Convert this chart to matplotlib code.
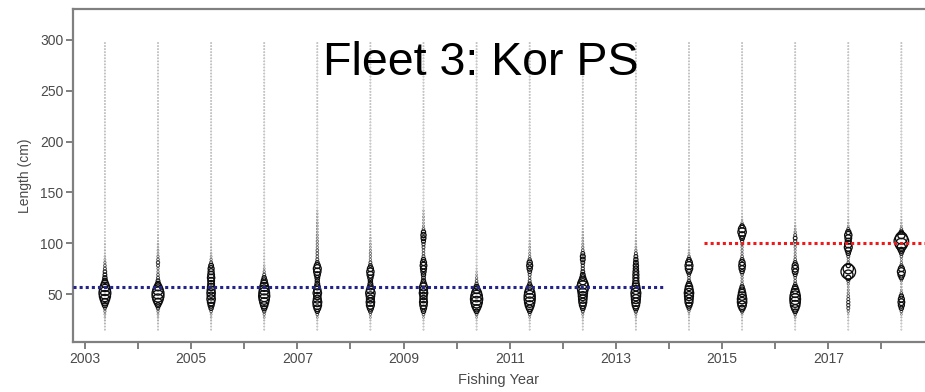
import numpy as np
import matplotlib
matplotlib.use('Agg')
import matplotlib.pyplot as plt

# Length composition bubbles, Korean purse seine fleet
years = np.arange(2003, 2019)
season = 0.375                               # sample timing within the fishing year
bins = np.arange(15, 133, 3)                 # length bins with observations (cm)
upper_bins = np.arange(135, 300, 3)          # empty bins drawn as tiny points
upper_props = np.zeros(len(upper_bins))

# Proportions (%) per length bin, one list per fishing year
p2003 = [0.05,0.05,0.08,0.1,0.15, 0.2,0.3,0.5,1.5,3, 5,7,8,7,5, 3,1.5,1,0.8,0.7,
         0.5,0.4,0.3,0.2,0.15, 0.1,0.1,0.08,0.1,0.05, 0.05,0.03,0.03,0.03,0.02, 0.02,0.02,0.02,0.02,0.02]
p2004 = [0.05,0.05,0.08,0.1,0.15, 0.2,0.3,0.6,1.5,3.5, 6,8,8,6,3.5, 1.5,0.8,0.5,0.4,0.3,
         0.3,0.5,0.6,0.4,0.3, 0.2,0.2,0.15,0.15,0.1, 0.1,0.1,0.05,0.05,0.03, 0.03,0.02,0.02,0.02,0.02]
p2005 = [0.05,0.05,0.08,0.1,0.15, 0.2,0.4,1,2,3, 4,3.5,4,3.5,3, 2.5,2.5,3,2.5,2,
         2,1.2,0.5,0.3,0.2, 0.15,0.1,0.1,0.08,0.05, 0.05,0.03,0.03,0.03,0.02, 0.02,0.02,0.02,0.02,0.02]
p2006 = [0.05,0.05,0.08,0.1,0.2, 0.3,0.6,1.5,3,4.5, 6,7,6.5,5.5,4.5, 3,2,1,0.5,0.3,
         0.2,0.15,0.1,0.1,0.08, 0.08,0.05,0.05,0.05,0.03, 0.03,0.03,0.02,0.02,0.02, 0.02,0.02,0.02,0.02,0.02]
p2007 = [0.05,0.05,0.08,0.1,0.2, 0.4,1,2.5,4,4.5, 3.5,3,4,3,2, 1.2,1,1.2,2,3,
         3.5,2,0.8,0.5,0.4, 0.4,0.4,0.3,0.3,0.3, 0.25,0.25,0.2,0.2,0.2, 0.2,0.15,0.15,0.15,0.12]
p2008 = [0.05,0.05,0.08,0.1,0.2, 0.3,0.8,2,3.5,4, 3.5,4,5,3.5,2, 1.2,1,1.5,2.5,3,
         2,0.8,0.5,0.3,0.3, 0.3,0.25,0.2,0.2,0.15, 0.15,0.1,0.1,0.08,0.08, 0.05,0.05,0.05,0.03,0.03]
p2009 = [0.05,0.05,0.08,0.1,0.2, 0.4,1,2,3,3.5, 3,3,4,3.5,3.5, 2,1,0.8,1,1.5,
         2,2.5,2,1,0.5, 0.4,0.4,0.5,0.6,0.9, 1.3,1.5,1,0.4,0.25, 0.2,0.2,0.2,0.15,0.15]
p2010 = [0.05,0.05,0.08,0.1,0.2, 0.4,1.2,3,5.5,7.5, 8.5,7.5,5.5,3,1.5, 0.6,0.4,0.3,0.2,0.15,
         0.1,0.08,0.05,0.05,0.05, 0.03,0.03,0.03,0.03,0.02, 0.02,0.02,0.02,0.02,0.02, 0.02,0.02,0.02,0.02,0.02]
p2011 = [0.05,0.05,0.08,0.1,0.2, 0.4,1,2.5,4.5,6, 7,7,6,4,2, 0.8,0.5,0.4,0.5,0.8,
         1.5,2,1.5,0.6,0.3, 0.25,0.2,0.2,0.15,0.15, 0.1,0.1,0.08,0.05,0.05, 0.03,0.03,0.02,0.02,0.02]
p2012 = [0.05,0.05,0.08,0.1,0.15, 0.25,0.5,1.2,2.5,3.5, 4,4.5,5,6,8, 6,3.5,2,1.2,0.8,
         0.6,0.6,0.8,1.2,1.3, 0.8,0.4,0.3,0.25,0.2, 0.2,0.15,0.15,0.1,0.1, 0.08,0.05,0.05,0.03,0.03]
p2013 = [0.05,0.05,0.08,0.1,0.15, 0.25,0.6,1.5,3,4, 4.5,5,5.5,4.5,3.5, 2.5,2,2,2,1.8,
         1.5,1.5,1.2,1,0.8, 0.5,0.3,0.2,0.15,0.15, 0.1,0.1,0.08,0.08,0.05, 0.05,0.05,0.03,0.03,0.03]
p2014 = [0.03,0.03,0.05,0.08,0.1, 0.15,0.3,0.8,2,3.5, 4,4.5,5,4,3, 1.5,0.6,0.4,0.6,1.5,
         3,3.5,2.5,1,0.4, 0.2,0.15,0.1,0.1,0.08, 0.05,0.05,0.05,0.03,0.03, 0.03,0.02,0.02,0.02,0.02]
p2015 = [0.03,0.03,0.05,0.08,0.1, 0.2,0.6,2,4,5, 5,4,3,2,1, 0.4,0.3,0.3,0.4,1,
         2,2.5,2,0.8,0.4, 0.3,0.3,0.3,0.4,0.6, 1.2,2.5,4,3,1, 0.3,0.15,0.1,0.08,0.05]
p2016 = [0.03,0.03,0.05,0.1,0.2, 0.4,1.2,3,5,6, 6.5,6,4.5,3,1.5, 0.6,0.4,0.4,0.8,1.8,
         2.5,2,0.8,0.4,0.3, 0.25,0.25,0.3,0.4,0.6, 0.8,0.5,0.3,0.2,0.15, 0.1,0.08,0.05,0.05,0.03]
p2017 = [0.02,0.03,0.05,0.08,0.1, 0.15,0.3,0.5,0.6,0.6, 0.5,0.4,0.3,0.25,0.2, 0.3,0.5,1.5,5,12,
         6,1,0.4,0.3,0.5, 1,2,3.5,3,2, 2.5,3,1.5,0.5,0.2, 0.15,0.1,0.08,0.05,0.05]
p2018 = [0.02,0.03,0.05,0.08,0.1, 0.2,0.4,1,2,2.5, 2,1,0.4,0.2,0.15, 0.15,0.3,1,2.5,3.5,
         2,0.6,0.3,0.25,0.4, 0.8,2,4,8,12, 8,3,1,0.4,0.2, 0.15,0.1,0.08,0.05,0.05]

comps = [p2003, p2004, p2005, p2006, p2007, p2008, p2009, p2010,
         p2011, p2012, p2013, p2014, p2015, p2016, p2017, p2018]

# Mean length reference lines (cm) and the years they cover
ref_lengths = [57, 100]
ref_start = [2002.77, 2014.66]
ref_end = [2013.92, 2018.9]
ref_colors = ['#23238c', '#f01818']

fig = plt.figure(figsize=(9.25, 3.92), dpi=100)
ax = fig.add_axes([73/925., 50/392., 852/925., 333/392.])

txt_font = ['Liberation Sans', 'DejaVu Sans']
grey = '#4a4a4a'

px = 0.72        # points per pixel at 100 dpi
for yr, p in zip(years, comps):
	p = np.asarray(p, dtype=float)
	x = np.full(len(bins), yr + season)
	# empty bins above the observed range
	ax.scatter(np.full(len(upper_bins), yr + season), upper_bins + 0 * upper_props,
	           s=(1.3 * px) ** 2, marker='o', facecolors='none', edgecolors='#b0b0b0', linewidths=0.45)
	d = 4.2 * np.sqrt(p)                      # bubble diameter in pixels, area ~ proportion
	d = np.maximum(d, 1.3)
	shade = np.clip(0.15 + 0.85 * np.sqrt(p), 0.3, 1.0)
	cols = [(0.05, 0.05, 0.05, a) for a in shade]
	lws = np.clip(0.3 + 0.6 * np.sqrt(p), 0.45, 0.95)
	ax.scatter(x, bins, s=(d * px) ** 2, marker='o', facecolors='none',
	           edgecolors=cols, linewidths=lws)

# Dotted mean length lines
for L, x0, x1, c in zip(ref_lengths, ref_start, ref_end, ref_colors):
	ax.plot([x0, x1], [L, L], color=c, lw=2.2, linestyle=(0, (1, 1)),
	        dash_capstyle='butt', clip_on=False, zorder=5)

ax.set_xlim(2002.774, 2018.82)
ax.set_ylim(2.8, 330.5)

ax.set_xticks(np.arange(2003, 2019, 2))
ax.set_xticks(np.arange(2004, 2019, 2), minor=True)
ax.set_yticks([50, 100, 150, 200, 250, 300])
ax.tick_params(axis='both', which='both', direction='out', length=5, width=1.2,
               color='#6a6a6a', labelcolor=grey, labelsize=10, pad=2)
for lab in ax.get_xticklabels() + ax.get_yticklabels():
	lab.set_family(txt_font)

for side in ['left', 'bottom', 'top']:
	ax.spines[side].set_color('#808080')
	ax.spines[side].set_linewidth(1.6)
ax.spines['right'].set_visible(False)

ax.set_xlabel('Fishing Year', fontsize=10.5, color=grey, family=txt_font, labelpad=5)
ax.set_ylabel('Length (cm)', fontsize=10, color=grey, family=txt_font, labelpad=6)

# Fleet title inside the panel
fig.text(481/925., 1 - 75/392., 'Fleet 3: Kor PS', fontsize=33.5, ha='center', va='baseline',
         family=txt_font, color='black')

fig.savefig('out.png', dpi=100)
